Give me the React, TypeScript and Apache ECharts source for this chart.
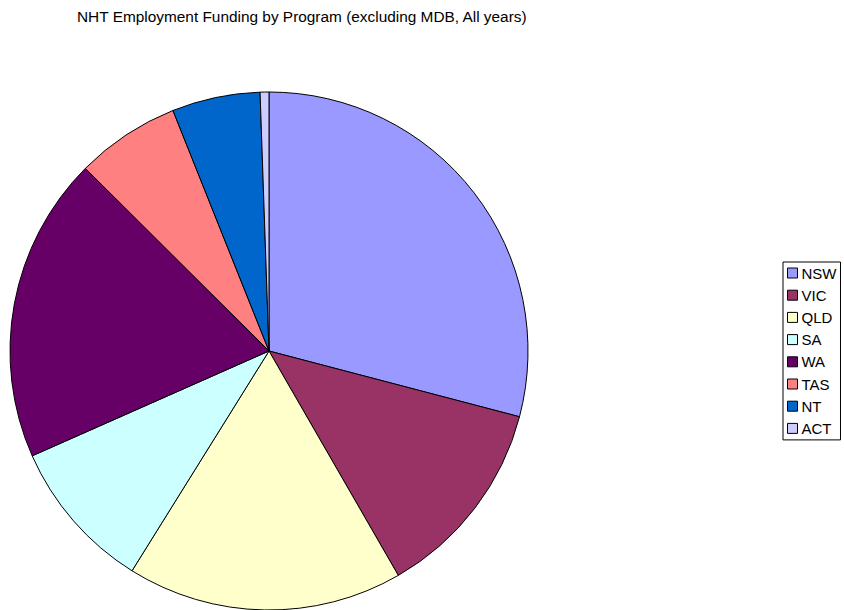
import React, { useEffect, useRef } from "react";
import * as echarts from "echarts";

const categories = ["NSW", "VIC", "QLD", "SA", "WA", "TAS", "NT", "ACT"];
const values = [29.1, 12.6, 17.2, 9.5, 19.1, 6.5, 5.5, 0.55];
const colors = ["#9999FF", "#993366", "#FFFFCC", "#CCFFFF", "#660066", "#FF8080", "#0066CC", "#CCCCFF"];
const titleText = "NHT Employment Funding by Program (excluding MDB, All years)";

export default function App() {
  const ref = useRef<HTMLDivElement>(null);
  useEffect(() => {
    if (!ref.current) return;
    const chart = echarts.init(ref.current, null, { renderer: "svg" });
    chart.setOption({
      animation: false,
      backgroundColor: "#ffffff",
      title: {
        text: titleText,
        left: 77,
        top: 9,
        padding: 0,
        textStyle: { fontFamily: "Liberation Sans, Arial, sans-serif", fontSize: 15.4, fontWeight: "normal", color: "#000" },
      },
      legend: {
        orient: "vertical",
        left: 783,
        top: 262,
        width: 60,
        padding: [3.5, 4, 4, 4],
        backgroundColor: "#ffffff",
        borderColor: "#000000",
        borderWidth: 1,
        borderRadius: 0,
        itemWidth: 10,
        itemHeight: 10,
        itemGap: 7.2,
        icon: "rect",
        textStyle: { fontFamily: "Liberation Sans, Arial, sans-serif", fontSize: 15, color: "#000", padding: [0, 0, 0, -1], lineHeight: 15 },
        itemStyle: { borderColor: "#000", borderWidth: 1 },
        data: categories,
      },
      series: [
        {
          type: "pie",
          center: [269, 351],
          radius: 259,
          startAngle: 90,
          clockwise: true,
          label: { show: false },
          labelLine: { show: false },
          emphasis: { disabled: true },
          itemStyle: { borderColor: "#000", borderWidth: 1 },
          data: categories.map((c, i) => ({ name: c, value: values[i], itemStyle: { color: colors[i] } })),
        },
      ],
    });
    return () => chart.dispose();
  }, []);
  return <div ref={ref} style={{ position: "fixed", left: 0, top: 0, width: 844, height: 610 }} />;
}
